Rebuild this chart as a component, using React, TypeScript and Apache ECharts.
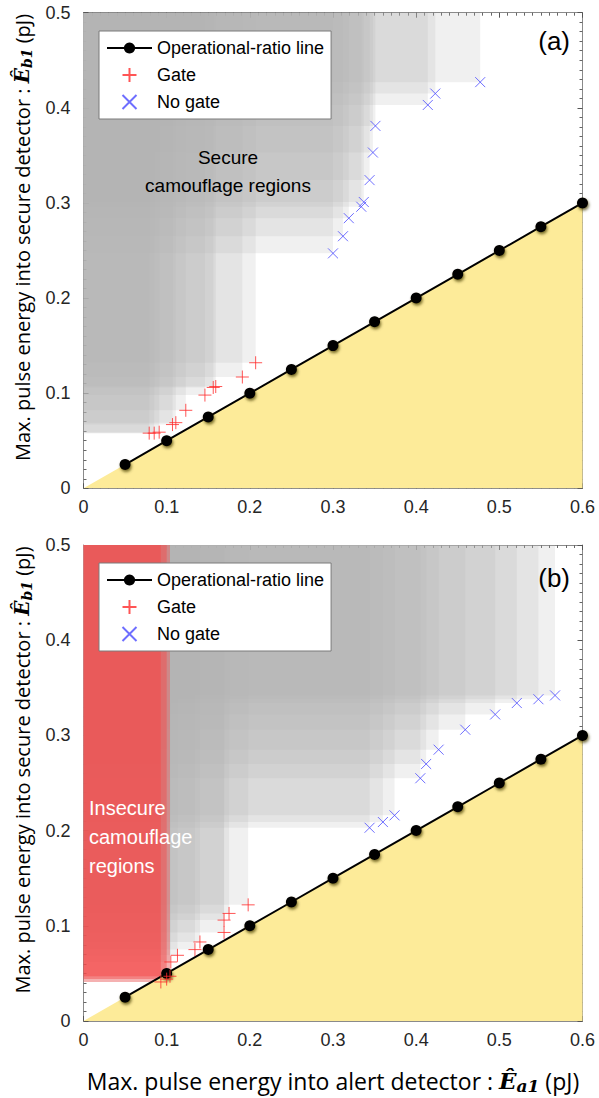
import React, { useEffect, useRef } from "react";
import * as echarts from "echarts";

// ---------- data ----------
const X_MIN = 0;
const X_MAX = 0.6;
const Y_MIN = 0;
const Y_MAX = 0.5;
const TICK = 0.1;

const lineX = [0.05, 0.1, 0.15, 0.2, 0.25, 0.3, 0.35, 0.4, 0.45, 0.5, 0.55, 0.6];
const lineY = [0.025, 0.05, 0.075, 0.1, 0.125, 0.15, 0.175, 0.2, 0.225, 0.25, 0.275, 0.3];

// panel (a)
const gateAX = [0.079, 0.085, 0.091, 0.107, 0.111, 0.123, 0.146, 0.156, 0.159, 0.191, 0.207];
const gateAY = [0.058, 0.058, 0.059, 0.067, 0.069, 0.082, 0.098, 0.106, 0.107, 0.117, 0.132];
const noGateAX = [0.3, 0.312, 0.319, 0.334, 0.337, 0.344, 0.348, 0.351, 0.414, 0.423, 0.477];
const noGateAY = [0.247, 0.265, 0.284, 0.296, 0.301, 0.324, 0.353, 0.381, 0.403, 0.415, 0.427];

// panel (b)
const gateBX = [0.093, 0.1, 0.104, 0.105, 0.113, 0.134, 0.14, 0.169, 0.169, 0.175, 0.198];
const gateBY = [0.041, 0.044, 0.047, 0.062, 0.069, 0.075, 0.083, 0.093, 0.106, 0.113, 0.122];
const noGateBX = [0.344, 0.36, 0.374, 0.405, 0.412, 0.427, 0.459, 0.495, 0.521, 0.547, 0.567];
const noGateBY = [0.203, 0.209, 0.216, 0.255, 0.27, 0.285, 0.306, 0.322, 0.334, 0.338, 0.342];

const legendNames = ["Operational-ratio line", "Gate", "No gate"];
const panelLabels = ["(a)", "(b)"];

// ---------- helpers ----------
const zip = (xs: number[], ys: number[]) => xs.map((x, i) => [x, ys[i]]);
const PLUS = "path://M0,-1L0,1M-1,0L1,0";
const CROSS = "path://M-1,-1L1,1M-1,1L1,-1";
const RED = "#ff2b2b";
const BLUE = "#4a4aff";
const AXIS_COLOR = "#8a8a8a";
const TICK_FONT = "Liberation Sans";
const NAME_FONT = "Open Sans";

const rectRender = (fill: string) => (params: any, api: any) => {
  const x = api.value(0);
  const y = api.value(1);
  const a = api.coord([X_MIN, Y_MAX]);
  const b = api.coord([x, y]);
  return {
    type: "rect",
    shape: { x: a[0], y: a[1], width: b[0] - a[0], height: b[1] - a[1] },
    style: { fill },
  };
};

const fmt = (v: number) => String(Math.round(v * 10) / 10);

const mathRich = (size: number) => ({
  e: { fontFamily: "DejaVu Serif", fontStyle: "italic", fontWeight: "bold", fontSize: size, color: "#000" },
  s: {
    fontFamily: "DejaVu Serif",
    fontStyle: "italic",
    fontWeight: "bold",
    fontSize: Math.round(size * 0.72),
    color: "#000",
    padding: [Math.round(size * 0.45), 0, 0, 0],
  },
});

function makeXAxis(grid: number, bottom: boolean, withName: boolean) {
  return {
    gridIndex: grid,
    type: "value",
    min: X_MIN,
    max: X_MAX,
    interval: TICK,
    position: bottom ? "bottom" : "top",
    axisLine: { show: true, onZero: false, lineStyle: { color: AXIS_COLOR, width: 1 } },
    axisTick: { show: true, inside: true, length: 5, lineStyle: { color: "#555" } },
    minorTick: { show: true, splitNumber: 10, length: 3, lineStyle: { color: "#666" } },
    splitLine: { show: false },
    axisLabel: {
      show: bottom,
      margin: 10,
      fontSize: 18,
      fontFamily: TICK_FONT,
      color: "#262626",
      formatter: fmt,
    },
    name: withName ? "Max. pulse energy into alert detector : {e|Ê}{s|a1} (pJ)" : "",
    nameLocation: "middle",
    nameGap: 46,
    nameTextStyle: { fontFamily: NAME_FONT, fontSize: 23, color: "#000", rich: mathRich(23) },
  };
}

function makeYAxis(grid: number, left: boolean) {
  return {
    gridIndex: grid,
    type: "value",
    min: Y_MIN,
    max: Y_MAX,
    interval: TICK,
    position: left ? "left" : "right",
    axisLine: { show: true, onZero: false, lineStyle: { color: AXIS_COLOR, width: 1 } },
    axisTick: { show: true, inside: true, length: 5, lineStyle: { color: "#555" } },
    minorTick: { show: true, splitNumber: 10, length: 3, lineStyle: { color: "#666" } },
    splitLine: { show: false },
    axisLabel: {
      show: left,
      margin: 13,
      fontSize: 18,
      fontFamily: TICK_FONT,
      color: "#262626",
      formatter: fmt,
    },
    name: left ? "Max. pulse energy into secure detector : {e|Ê}{s|b1} (pJ)" : "",
    nameLocation: "middle",
    nameGap: 50,
    nameTextStyle: {
      fontFamily: NAME_FONT,
      fontSize: 20,
      color: "#000",
      padding: [0, 0, 0, 26],
      rich: mathRich(20),
    },
  };
}

function panelSeries(p: number, gX: number[], gY: number[], nX: number[], nY: number[]) {
  const xi = 2 * p;
  const yi = 2 * p;
  const gate = zip(gX, gY);
  const noGate = zip(nX, nY);
  const all = gate.concat(noGate);
  const insecure = gate.filter(([x, y]) => y < x * (lineY[0] / lineX[0]));
  const line = zip(lineX, lineY);
  const last = lineX.length - 1;
  const boundary = [[X_MIN, Y_MIN], [lineX[last], lineY[last]]];
  return [
    {
      name: "secure-" + p,
      type: "custom",
      xAxisIndex: xi,
      yAxisIndex: yi,
      renderItem: rectRender("rgba(180,180,180,0.2)"),
      data: all,
      clip: true,
      z: 1,
      silent: true,
    },
    {
      name: "insecure-" + p,
      type: "custom",
      xAxisIndex: xi,
      yAxisIndex: yi,
      renderItem: rectRender("rgba(255,55,55,0.34)"),
      data: insecure,
      clip: true,
      z: 2,
      silent: true,
    },
    {
      name: "forbidden-" + p,
      type: "line",
      xAxisIndex: xi,
      yAxisIndex: yi,
      data: boundary,
      symbol: "none",
      lineStyle: { width: 0 },
      areaStyle: { color: "#fdeb99", opacity: 1 },
      z: 3,
      silent: true,
    },
    {
      name: legendNames[0],
      type: "line",
      xAxisIndex: xi,
      yAxisIndex: yi,
      data: line,
      symbol: "circle",
      symbolSize: 11,
      lineStyle: { color: "#000", width: 2 },
      itemStyle: {
        color: "#000",
        shadowColor: "rgba(70,60,0,0.75)",
        shadowBlur: 3,
        shadowOffsetX: 1,
        shadowOffsetY: 2,
      },
      z: 4,
    },
    {
      name: legendNames[1],
      type: "scatter",
      xAxisIndex: xi,
      yAxisIndex: yi,
      data: gate,
      symbol: PLUS,
      symbolSize: 13,
      itemStyle: { color: "rgba(0,0,0,0)", borderColor: RED, borderWidth: 1 },
      z: 5,
    },
    {
      name: legendNames[2],
      type: "scatter",
      xAxisIndex: xi,
      yAxisIndex: yi,
      data: noGate,
      symbol: CROSS,
      symbolSize: 10,
      itemStyle: { color: "rgba(0,0,0,0)", borderColor: BLUE, borderWidth: 1 },
      z: 5,
    },
  ];
}

function makeLegend(top: number) {
  return {
    data: legendNames,
    orient: "vertical",
    left: 99,
    top,
    itemWidth: 45,
    itemHeight: 14,
    itemGap: 9,
    padding: [8, 7, 8, 7],
    backgroundColor: "#fff",
    borderColor: "#7a7a7a",
    borderWidth: 1,
    borderRadius: 0,
    selectedMode: false,
    textStyle: { fontFamily: TICK_FONT, fontSize: 18, color: "#000", padding: [0, 0, 0, 0] },
  };
}

export default function App() {
  const ref = useRef<HTMLDivElement>(null);
  useEffect(() => {
    document.body.style.margin = "0";
    const chart = echarts.init(ref.current!, undefined, { renderer: "svg" });
    const option: any = {
      animation: false,
      backgroundColor: "#fff",
      grid: [
        { left: 83.5, top: 12.7, width: 499, height: 475.6 },
        { left: 83.5, top: 545, width: 499, height: 476 },
      ],
      xAxis: [makeXAxis(0, true, false), makeXAxis(0, false, false), makeXAxis(1, true, true), makeXAxis(1, false, false)],
      yAxis: [makeYAxis(0, true), makeYAxis(0, false), makeYAxis(1, true), makeYAxis(1, false)],
      legend: [makeLegend(31), makeLegend(563)],
      series: [
        ...panelSeries(0, gateAX, gateAY, noGateAX, noGateAY),
        ...panelSeries(1, gateBX, gateBY, noGateBX, noGateBY),
      ],
      graphic: [
        {
          type: "text",
          right: 29,
          top: 28,
          z: 10,
          style: { text: panelLabels[0], fontFamily: TICK_FONT, fontSize: 26, fill: "#000" },
        },
        {
          type: "text",
          right: 29,
          top: 565,
          z: 10,
          style: { text: panelLabels[1], fontFamily: TICK_FONT, fontSize: 26, fill: "#000" },
        },
        {
          type: "text",
          x: 228,
          y: 171,
          z: 10,
          style: {
            text: "Secure\ncamouflage regions",
            fontFamily: TICK_FONT,
            fontSize: 19,
            lineHeight: 28,
            fill: "#000",
            align: "center",
            verticalAlign: "middle",
          },
        },
        {
          type: "text",
          x: 89,
          y: 837,
          z: 10,
          style: {
            text: "Insecure\ncamouflage\nregions",
            fontFamily: TICK_FONT,
            fontSize: 20,
            lineHeight: 29,
            fill: "#fff",
            align: "left",
            verticalAlign: "middle",
          },
        },
      ],
    };
    chart.setOption(option);
    return () => chart.dispose();
  }, []);
  return (
    <div
      ref={ref}
      style={{ position: "absolute", left: 0, top: 0, width: 599, height: 1098 }}
    />
  );
}
